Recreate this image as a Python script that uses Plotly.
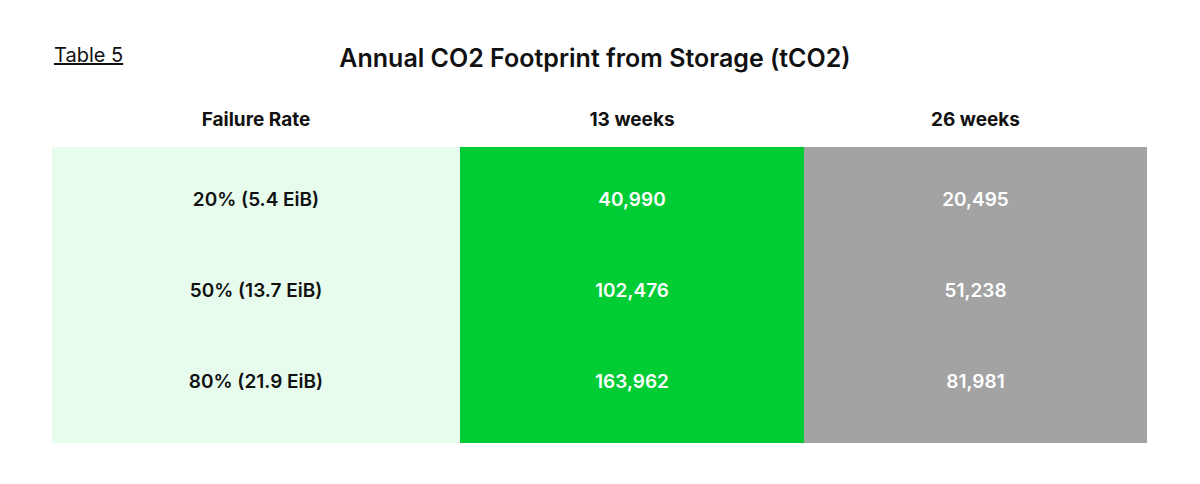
import plotly.graph_objects as go

# Table contents
columns = ['Failure Rate', '13 weeks', '26 weeks']
failure_rates = ['20% (5.4 EiB)', '50% (13.7 EiB)', '80% (21.9 EiB)']
weeks_13 = [40990, 102476, 163962]
weeks_26 = [20495, 51238, 81981]

col_fills = ['#E8FCEE', '#00CC33', '#A3A3A3']
col_fonts = ['#111111', '#FFFFFF', '#FFFFFF']
FONT = 'Inter, Lato, sans-serif'


def cell_texts(items):
    # a blank first line pushes each value down inside its row;
    # the last row gets a blank trailing line so it is a bit taller
    out = []
    for i, s in enumerate(items):
        t = f'&nbsp;<br><span style="font-size:19px">{s}</span>'
        if i == len(items) - 1:
            t += '<br><span style="font-size:70px">&nbsp;</span>'
        out.append(t)
    return out


fig = go.Figure()

fig.add_trace(go.Table(
    columnwidth=[408, 344, 343],
    domain=dict(x=[52 / 1200, 1147 / 1200], y=[0.0, 1 - 100 / 484]),
    header=dict(
        values=[f'<b>{c}</b>' for c in columns],
        fill_color='white',
        line=dict(width=0, color='white'),
        align='center',
        height=47,
        font=dict(family=FONT, size=19, color='#111111'),
    ),
    cells=dict(
        values=[cell_texts(failure_rates),
                cell_texts([f'{v:,}' for v in weeks_13]),
                cell_texts([f'{v:,}' for v in weeks_26])],
        fill_color=[[c] * len(failure_rates) for c in col_fills],
        line=dict(width=0, color='white'),
        align='center',
        height=91,
        font=dict(family=FONT, size=22.5,
                  color=[[c] * len(failure_rates) for c in col_fonts],
                  weight=600),
    ),
))

fig.add_annotation(
    text='<u>Table 5</u>', x=52 / 1200, y=1 - 55 / 484,
    xref='paper', yref='paper', xanchor='left', yanchor='middle',
    showarrow=False,
    font=dict(family=FONT, size=20, color='#111111'),
)

fig.update_layout(
    title=dict(text='Annual CO2 Footprint from Storage (tCO2)',
               x=595 / 1200, xanchor='center', y=1 - 58 / 484, yanchor='middle',
               font=dict(family=FONT, size=25, color='#111111', weight=600)),
    width=1200, height=484,
    margin=dict(l=0, r=0, t=0, b=0),
    paper_bgcolor='white',
)

fig.write_html('out.html', config={'displayModeBar': False},
               post_script="document.body.style.margin='0';")
